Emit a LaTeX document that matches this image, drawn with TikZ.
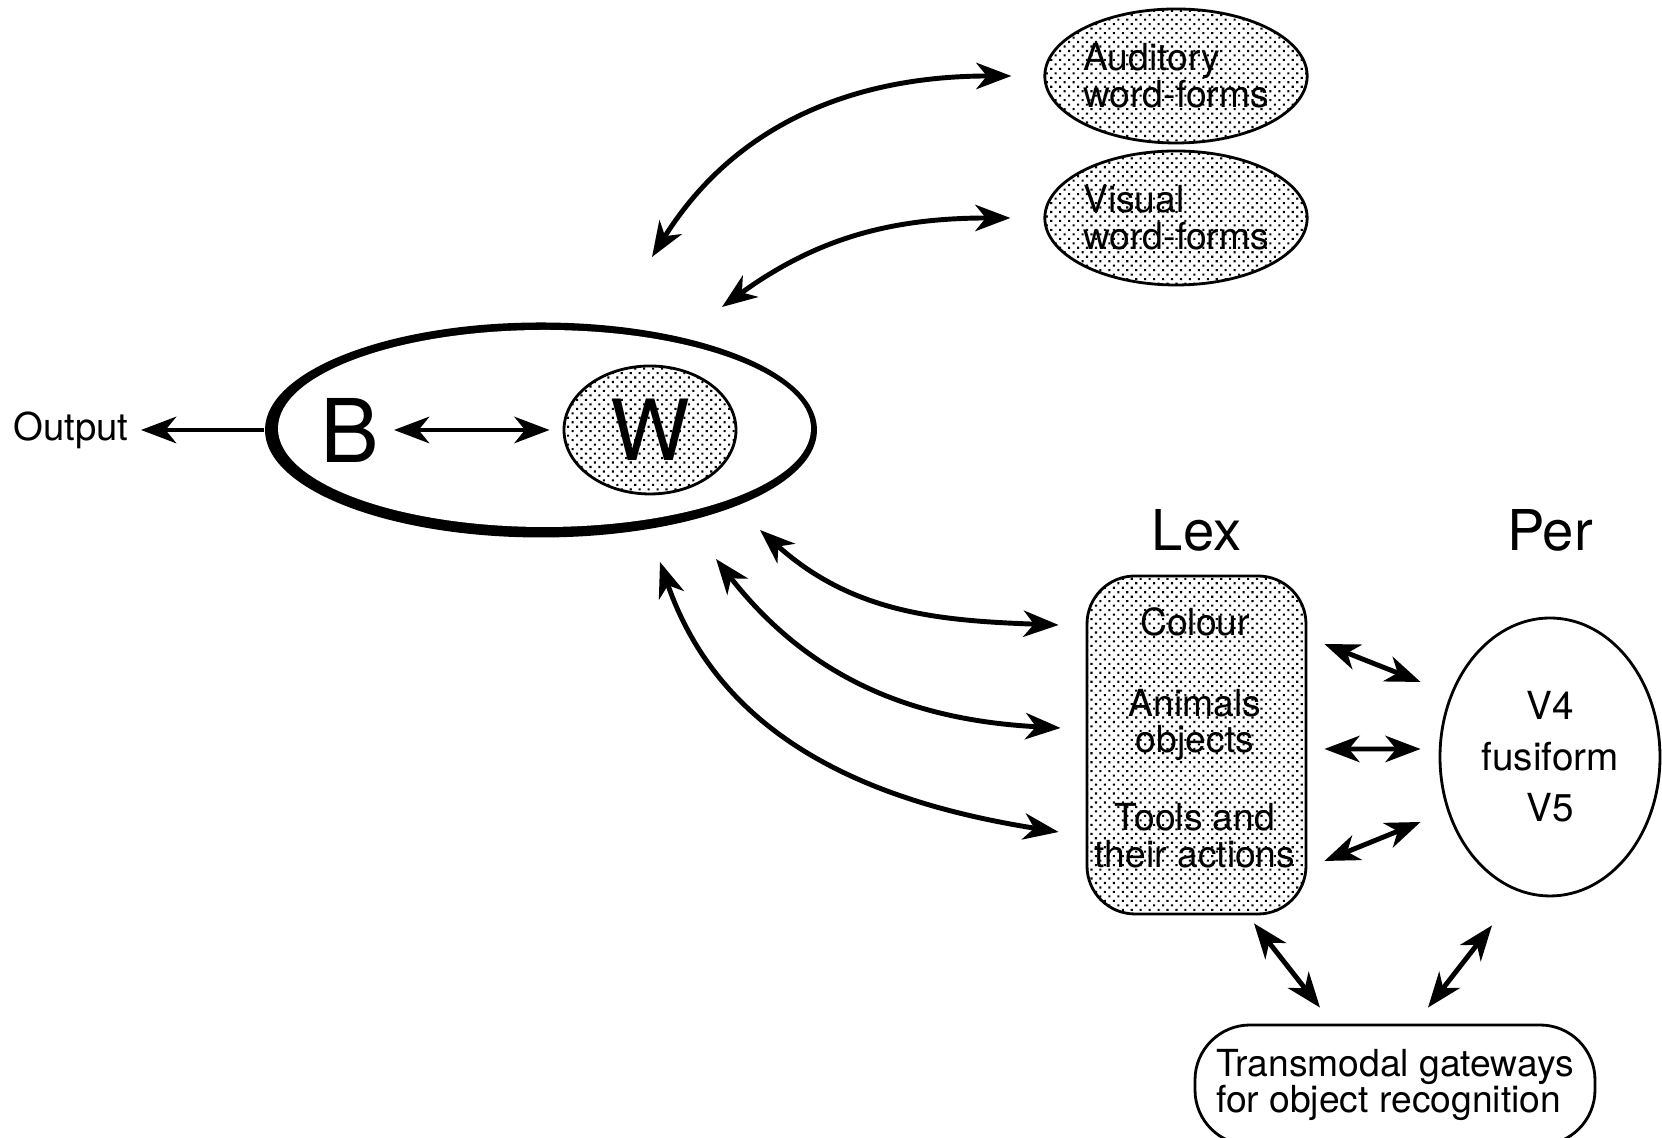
\documentclass[tikz,border=0pt]{standalone}
\usepackage{fontspec}
\setmainfont{TeX Gyre Heros}
\usepackage{tikz}
\usetikzlibrary{arrows.meta,patterns.meta,positioning,shapes.geometric}
\tikzset{%
	dotted fill/.style = {pattern={Dots[angle=45,distance=1.8pt,radius=0.42pt]}}, % halftone
	ring/.style     = {ellipse, fill=black, minimum width=5.52cm, minimum height=2.15cm, inner sep=0pt},
	ringhole/.style = {ellipse, fill=white, minimum width=5.33cm, minimum height=1.97cm, inner sep=0pt},
	letter/.style   = {inner sep=0pt, font=\fontsize{25}{25}\selectfont},
	hub/.style      = {draw, ellipse, line width=0.8pt, dotted fill, minimum width=1.72cm, minimum height=1.28cm, inner sep=0pt, font=\fontsize{24}{24}\selectfont},
	wordform/.style = {draw, ellipse, line width=0.8pt, dotted fill, minimum width=2.48cm, minimum height=1.34cm, inner sep=0pt, align=left, font=\fontsize{10.6}{10.5}\selectfont},
	lexbox/.style   = {draw, rectangle, rounded corners=0.48cm, line width=0.8pt, dotted fill, minimum width=2.19cm, minimum height=3.38cm},
	item/.style     = {align=center, inner sep=0pt, font=\fontsize{10.6}{10.5}\selectfont},
	region/.style   = {draw, ellipse, line width=0.8pt, minimum width=2.20cm, minimum height=2.78cm, inner sep=0pt, align=center, font=\fontsize{11}{14.5}\selectfont},
	gate/.style     = {draw, rectangle, rounded corners=0.55cm, line width=0.8pt, minimum width=4.0cm, minimum height=1.2cm, align=left, font=\fontsize{10.6}{10.5}\selectfont},
	heading/.style  = {inner sep=0pt, font=\fontsize{16}{16}\selectfont},
	plain/.style    = {font=\fontsize{10.9}{10.9}\selectfont},
	link/.style     = {line width=1.4pt},
	waypoint/.style = {coordinate},
}

\begin{document}
\begin{tikzpicture}[>={Stealth[length=10pt,width=7.5pt,inset=3pt]}]
	\useasboundingbox (0,0) rectangle (16.62,11.38);
	% B and W inside the ring
	\node [ring] (bw) at (5.41,7.08) {};
	\node [ringhole] (bwin) at (5.445,7.095) {};
	\node [letter] (b) at (3.50,7.08) {B};
	\node [hub] (w) at (6.50,7.08) {W};
	\node [plain,anchor=east] (out) at (1.41,7.08) {Output};
	
	% word-forms
	\node [wordform] (aud) at (11.76,10.62) {Auditory\\word-forms};
	\node [wordform] (vis) [below of=aud,node distance=1.42cm] {Visual\\word-forms};
	
	% Lex and Per
	\node [lexbox] (lex) at (11.965,3.93) {};
	\node [item] (colour) at (11.95,5.16) {Colour};
	\node [item] (animals) at (11.95,4.13) {Animals\\objects};
	\node [item] (tools) at (11.95,3.02) {Tools and\\their actions};
	\node [region] (per) at (15.50,3.81) {V4\\fusiform\\V5};
	\node [heading] (lexhead) [above of=lex,node distance=2.15cm] {Lex};
	\node [heading] (perhead) at (lexhead -| per) {Per};
	\node [gate] (gate) at (13.95,0.53) {Transmodal gateways\\for object recognition};
	
	\node [waypoint] (ta) at (6.52,8.81) {};
	\node [waypoint] (tv) at (7.22,8.31) {};
	\node [waypoint] (lc) at (7.60,6.08) {};
	\node [waypoint] (la) at (7.16,5.79) {};
	\node [waypoint] (lt) at (6.60,5.76) {};
	
	\draw[link,->] (bw.west) -- (out);
	\draw[link,<->,shorten <=0.14cm,shorten >=0.13cm] (b) -- (w);
	\draw[link,<->] (ta) to[out=58,in=180] ([xshift=-0.32cm]aud.west);
	\draw[link,<->] (tv) to[out=36,in=180] ([xshift=-0.33cm]vis.west);
	\draw[link,<->] (lc) to[out=-42,in=178] ([shift={(-0.27,1.20)}]lex.west);
	\draw[link,<->] (la) to[out=-52,in=177] ([shift={(-0.25,0.17)}]lex.west);
	\draw[link,<->] (lt) to[out=-71,in=171] ([shift={(-0.27,-0.87)}]lex.west);
	\draw[link,<->] ([shift={(0.17,1.01)}]lex.east) -- ([shift={(-0.18,0.75)}]per.west);
	\draw[link,<->] ([shift={(0.17,-0.04)}]lex.east) -- ([shift={(-0.18,0.08)}]per.west);
	\draw[link,<->] ([shift={(0.17,-1.16)}]lex.east) -- ([shift={(-0.18,-0.65)}]per.west);
	\draw[link,<->] ([shift={(0.575,-0.08)}]lex.south) -- ([shift={(-0.75,0.16)}]gate.north);
	\draw[link,<->] ([shift={(-0.58,-0.28)}]per.south) -- ([shift={(0.33,0.16)}]gate.north);
\end{tikzpicture}
\end{document}
